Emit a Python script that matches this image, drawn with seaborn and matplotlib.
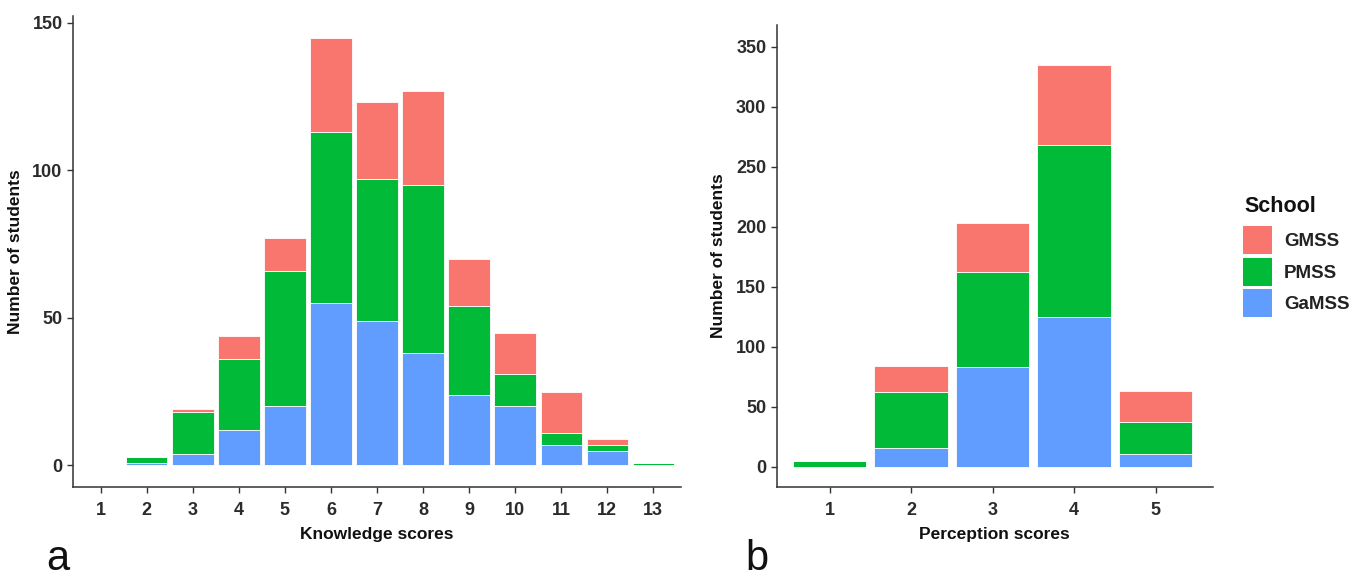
import matplotlib
matplotlib.use("Agg")
import matplotlib.pyplot as plt
from matplotlib.patches import Patch
import seaborn as sns
import pandas as pd

# ---- data ----
schools = ["GMSS", "PMSS", "GaMSS"]
colors = ["#F8766D", "#00BA38", "#619CFF"]

knowledge_scores = [1, 2, 3, 4, 5, 6, 7, 8, 9, 10, 11, 12, 13]
know_gmss = [0, 0, 1, 8, 11, 32, 26, 32, 16, 14, 14, 2, 0]
know_pmss = [0, 2, 14, 24, 46, 58, 48, 57, 30, 11, 4, 2, 1]
know_gamss = [0, 1, 4, 12, 20, 55, 49, 38, 24, 20, 7, 5, 0]

perception_scores = [1, 2, 3, 4, 5]
perc_gmss = [0, 22, 41, 67, 26]
perc_pmss = [5, 46, 79, 143, 26]
perc_gamss = [0, 16, 83, 125, 11]


def long_df(scores, g, p, ga):
    rows = []
    for s, a, b, c in zip(scores, g, p, ga):
        for sch, v in zip(schools, (a, b, c)):
            if v > 0:
                rows.append({"score": s, "School": sch, "n": v})
    return pd.DataFrame(rows)


df_k = long_df(knowledge_scores, know_gmss, know_pmss, know_gamss)
df_p = long_df(perception_scores, perc_gmss, perc_pmss, perc_gamss)

sns.set_theme(style="ticks")
plt.rcParams["font.family"] = ["Liberation Sans", "DejaVu Sans"]

fig = plt.figure(figsize=(13.65, 5.81), dpi=100)
ax1 = fig.add_axes([0.0535, 0.162, 0.4454, 0.811])
ax2 = fig.add_axes([0.569, 0.162, 0.3194, 0.795])

pal = dict(zip(schools, colors))

for ax, df in ((ax1, df_k), (ax2, df_p)):
    sns.histplot(data=df, x="score", weights="n", hue="School",
                 hue_order=schools, palette=pal, multiple="stack",
                 discrete=True, shrink=0.9, alpha=1, edgecolor="white",
                 linewidth=0.6, legend=False, ax=ax)

tick_color = "#2b2b2b"
for ax in (ax1, ax2):
    sns.despine(ax=ax)
    for sp in ("left", "bottom"):
        ax.spines[sp].set_color("#333333")
        ax.spines[sp].set_linewidth(1.1)
    ax.tick_params(axis="both", colors="#333333", length=4, width=1,
                   labelsize=13, labelcolor=tick_color)
    ax.tick_params(axis="x", pad=7)
    ax.set_ylabel("Number of students", fontsize=12.5, fontweight="bold",
                  color="#111111", labelpad=7)

ax1.set_xlim(0.4, 13.6)
ax1.set_ylim(-7.25, 152.4)
ax1.set_xticks(knowledge_scores)
ax1.set_yticks([0, 50, 100, 150])
ax1.set_xlabel("Knowledge scores", fontsize=12.5, fontweight="bold",
               color="#111111", labelpad=6)

ax2.set_xlim(0.35, 5.7)
ax2.set_ylim(-16.7, 368)
ax2.set_xticks(perception_scores)
ax2.set_yticks([0, 50, 100, 150, 200, 250, 300, 350])
ax2.set_xlabel("Perception scores", fontsize=12.5, fontweight="bold",
               color="#111111", labelpad=6)

for ax in (ax1, ax2):
    for lab in ax.get_xticklabels() + ax.get_yticklabels():
        lab.set_fontweight("bold")

handles = [Patch(facecolor=c, edgecolor="none") for c in colors]
leg = fig.legend(handles, schools,
                 loc="upper left", bbox_to_anchor=(0.8985, 0.64),
                 frameon=False, fontsize=13.5,
                 handlelength=1.55, handleheight=1.95, handletextpad=0.62,
                 labelspacing=0.17)
for t in leg.get_texts():
    t.set_fontweight("bold")
    t.set_color("#222222")
fig.text(0.912, 0.635, "School", fontsize=15.5, fontweight="bold",
         color="#111111", va="baseline")

fig.text(0.034, 0.003, "a", fontsize=30, color="#111111", va="bottom")
fig.text(0.546, 0.003, "b", fontsize=30, color="#111111", va="bottom")

fig.savefig("out.png", dpi=100, facecolor="white")
